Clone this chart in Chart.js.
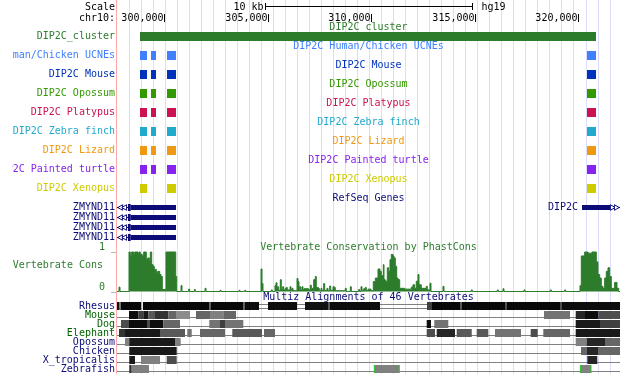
<!DOCTYPE html>
<html>
<head>
<meta charset="utf-8">
<script src="https://cdn.jsdelivr.net/npm/chart.js@4.4.1/dist/chart.umd.min.js"></script>
<style>
  html, body { margin: 0; padding: 0; background: #fff; }
  canvas { display: block; }
</style>
</head>
<body>
<canvas id="browser" width="620" height="374"></canvas>
<script>
// UCSC-style view of chr10 around DIP2C (hg19), drawn with Chart.js

// ---- window / ruler ----
const viewStart = 297729;
const viewEnd = 322029;
const tickValues = [300000, 305000, 310000, 315000, 320000];
const scaleBarStart = 304879;
const scaleBarLength = 10000;

// ---- DIP2C cluster + UCNE tracks ----
const clusterName = 'DIP2C_cluster';
const clusterRange = [298840, 320869];
const ucneTracks = ['Human/Chicken UCNEs', 'Mouse', 'Opossum', 'Platypus', 'Zebra finch', 'Lizard', 'Painted turtle', 'Xenopus'];
const ucneElements = [[298840, 299178], [299372, 299613], [300145, 300579], [320435, 320869]];
const ucnePresent = [
  [1, 1, 1, 1], [1, 1, 1, 1], [1, 1, 1, 1], [1, 1, 1, 1],
  [1, 1, 1, 1], [1, 1, 1, 1], [1, 1, 1, 1], [1, 0, 1, 1]
];

// ---- RefSeq genes ----
const geneNames = ['ZMYND11', 'ZMYND11', 'ZMYND11', 'ZMYND11'];
const zmyndIntron = [viewStart, 298260];
const zmyndCds = [298260, 298390];
const zmyndUtr = [298390, 300579];
const zmyndArrows = [297922, 298115];
const dip2cName = 'DIP2C';
const dip2cExon = [320193, 321545];
const dip2cIntron = [321545, viewEnd];
const dip2cArrows = [321642, 321835];

// ---- Vertebrate conservation (position, phastCons score), stepped ----
const consSteps = [
  [297729, 0], [297826, 0.11], [297874, 0], [298309, 1.0], [298370, 0.91], [298436, 1.0],
  [298536, 0.94], [298584, 1.0], [298743, 0.97], [298792, 1.0], [298855, 0.94], [298950, 0.9],
  [299018, 1.0], [299145, 0.81], [299212, 0.85], [299290, 0.77], [299338, 1.0], [299405, 0.68],
  [299468, 0.64], [299530, 0.56], [299627, 0.47], [299695, 0.51], [299792, 0.43], [299855, 0.38],
  [299918, 0.05], [300096, 1.0], [300565, 0.38], [300613, 0], [300821, 0.15], [300869, 0],
  [301192, 0.06], [301240, 0], [301464, 0.05], [301512, 0], [301981, 0.08], [302029, 0],
  [302705, 0.03], [302753, 0], [303623, 0.03], [303671, 0], [303898, 0.03], [303946, 0],
  [304686, 0.57], [304734, 0.2], [304782, 0], [305183, 0.04], [305231, 0], [305362, 0.15],
  [305410, 0.22], [305459, 0.05], [305492, 0.12], [305541, 0.03], [305618, 0.3], [305666, 0.05],
  [305734, 0.12], [305782, 0.04], [305859, 0.08], [305908, 0.1], [305956, 0.04], [306087, 0.12],
  [306135, 0.04], [306183, 0.08], [306232, 0.02], [306425, 0.33], [306473, 0.25], [306521, 0.05],
  [306555, 0.12], [306603, 0.04], [306666, 0.12], [306715, 0.04], [306763, 0.07], [306990, 0.04],
  [307068, 0.16], [307116, 0.04], [307150, 0.08], [307198, 0.04], [307232, 0.3], [307309, 0.38],
  [307357, 0.1], [307454, 0.08], [307502, 0.02], [307584, 0.08], [307632, 0.02], [307714, 0.2],
  [307763, 0.03], [307874, 0.08], [307922, 0.02], [308004, 0.14], [308052, 0.03], [308163, 0.12],
  [308226, 0.1], [308274, 0.02], [308757, 0.08], [308806, 0], [309000, 0.12], [309048, 0],
  [309406, 0.05], [309454, 0], [309516, 0.12], [309565, 0.02], [309647, 0.07], [309695, 0.02],
  [309724, 0.1], [309772, 0.02], [309855, 0.06], [310000, 0.02], [310111, 0.25], [310208, 0.34],
  [310338, 0.57], [310434, 0.51], [310497, 0.4], [310594, 0.68], [310628, 0.3], [310690, 0.26],
  [310787, 0.6], [310855, 0.51], [310917, 0.81], [310980, 0.94], [311062, 0.9], [311111, 0.85],
  [311173, 0.64], [311241, 0.34], [311304, 0.3], [311386, 0.08], [311627, 0.06], [311946, 0.11],
  [312028, 0.17], [312110, 0.08], [312187, 0.26], [312270, 0.43], [312318, 0.17], [312429, 0.08],
  [312670, 0.13], [312719, 0.04], [312850, 0.21], [312898, 0], [313478, 0.13], [313526, 0],
  [314845, 0.04], [314893, 0], [316102, 0.04], [316150, 0], [316376, 0.07], [316424, 0],
  [317391, 0.04], [317439, 0], [318662, 0.04], [318710, 0], [319357, 0.04], [319406, 0],
  [320096, 0.15], [320159, 0.9], [320323, 1.0], [320483, 0.97], [320676, 1.0], [320884, 0.75],
  [320966, 0.43], [321048, 0.34], [321125, 0.13], [321207, 0.08], [321289, 0.34], [321366, 0.51],
  [321449, 0.6], [321531, 0.38], [321608, 0.08], [321772, 0.23], [321884, 0.08], [321966, 0],
  [322029, 0]
];

// ---- Multiz 46-way blocks: [start, end, score] ----
const multizSpecies = ['Rhesus', 'Mouse', 'Dog', 'Elephant', 'Opossum', 'Chicken', 'X_tropicalis', 'Zebrafish'];
const rhesusBlocks = [
  [297729, 297850, 0.95], [297850, 297922, 0.55], [297922, 298913, 0.97], [298913, 298985, 0.1],
  [298985, 302174, 0.97], [302174, 302246, 0.6], [302246, 303816, 0.97], [303816, 303889, 0.6],
  [303889, 304589, 0.95], [305024, 306425, 0.95], [306811, 307922, 0.93], [307922, 308019, 0.65],
  [308019, 310434, 0.95], [312705, 312947, 0.75], [312947, 314299, 0.97], [314299, 314372, 0.65],
  [314372, 316473, 0.97], [316473, 316546, 0.7], [316546, 319130, 0.97], [319130, 319227, 0.7],
  [319227, 322029, 0.95]
];
const rhesusGaps = [[304589, 305024], [306425, 306811], [310434, 312705]];
const mouseBlocks = [
  [298309, 298758, 0.95], [298758, 299000, 0.75], [299000, 299241, 0.9], [299241, 299565, 0.65],
  [299565, 300207, 0.8], [300207, 300613, 0.6], [300613, 301256, 0.45], [301546, 302222, 0.6],
  [302222, 302864, 0.5], [302864, 303478, 0.6], [318357, 319613, 0.55], [319889, 320338, 0.85],
  [320338, 320981, 0.95], [320981, 322029, 0.7]
];
const dogBlocks = [
  [297922, 298309, 0.7], [298309, 299178, 0.95], [299178, 299323, 0.7], [299323, 299966, 0.95],
  [299966, 300773, 0.6], [302188, 302705, 0.55], [302705, 302947, 0.75], [302947, 303831, 0.55],
  [312691, 312898, 0.95], [313058, 313734, 0.55], [319889, 321062, 0.9], [321062, 322029, 0.75]
];
const elephantBlocks = [
  [297826, 298115, 0.8], [298115, 299806, 0.9], [299806, 301014, 0.65], [301125, 301338, 0.55],
  [301739, 302947, 0.6], [303299, 304734, 0.65], [304831, 305362, 0.6], [312691, 313091, 0.7],
  [313174, 314058, 0.85], [314140, 314865, 0.65], [315106, 315667, 0.65], [315990, 317246, 0.55],
  [317715, 318053, 0.7], [318324, 319613, 0.6], [319889, 322029, 0.9]
];
const opossumBlocks = [
  [298115, 298323, 0.5], [298323, 300531, 0.9], [300531, 300806, 0.5],
  [319889, 320420, 0.5], [320420, 321304, 0.85], [321304, 322029, 0.6]
];
const chickenBlocks = [
  [298323, 300613, 0.9], [320145, 320420, 0.6], [320420, 320966, 0.85], [320966, 322029, 0.6]
];
const xtropBlocks = [
  [298323, 298599, 0.9], [298888, 299806, 0.5], [300130, 300613, 0.7], [320449, 320932, 0.85]
];
const zebrafishBlocks = [
  [298323, 298439, 0.8], [298439, 299275, 0.5], [310160, 311367, 0.5], [320111, 320628, 0.5]
];
const zebrafishBreaks = [310160, 311367, 320111, 320628];

// ---- look ----
const FONT = '10px "DejaVu Sans Mono", "Liberation Mono", monospace';
const GREEN = '#2c7c2c';
const NAVY = '#0c0c78';
const MAF_GREEN = '#006400';
const ucneColors = ['#4080ff', '#0033bb', '#339900', '#cc1155', '#22aacc', '#ee9911', '#8822ee', '#cccc00'];
const multizColors = [NAVY, MAF_GREEN, MAF_GREEN, MAF_GREEN, NAVY, NAVY, NAVY, NAVY];
const GUIDE = '#dcdcff';
const guideStart = 298309;
const guideStep = 581;

// vertical layout (canvas rows)
const ROW = {
  scaleBase: 10, scaleBar: 6.5, scaleTickTop: 3, scaleTickBottom: 10,
  chromBase: 21, chromTickTop: 14, chromTickBottom: 22,
  clusterBar: 36.5, clusterTitle: 30, clusterLabel: 39,
  ucneBar: 55.5, ucneTitle: 49, ucneLabel: 58, ucneStep: 19,
  refTitle: 201, geneBar: 207.5, geneLabel: 210, geneStep: 10,
  consTitle: 250, consTop: 252, consBase: 291.5, consLabel: 268,
  mafTitle: 300, mafBar: 306, mafLabel: 309, mafStep: 9
};
const HEIGHT = 374;
const LABEL_RIGHT = 115;

function shade(score) {
  const g = Math.round(255 * (1 - score));
  return `rgb(${g},${g},${g})`;
}

function floatBars(ranges, y, thickness, colors, order) {
  return {
    type: 'bar',
    indexAxis: 'y',
    xAxisID: 'x',
    yAxisID: 'y',
    data: ranges.map(r => ({ x: [r[0], r[1]], y })),
    backgroundColor: colors,
    barThickness: thickness,
    grouped: false,
    borderWidth: 0,
    inflateAmount: 0,
    order,
  };
}

function arrows(positions, y, rotation) {
  return {
    type: 'scatter',
    xAxisID: 'x',
    yAxisID: 'y',
    data: positions.map(p => ({ x: p, y })),
    pointStyle: 'triangle',
    rotation,
    pointRadius: 3.2,
    backgroundColor: '#fff',
    borderColor: NAVY,
    borderWidth: 1,
    order: 0,
  };
}

const datasets = [];

// conservation wiggle
datasets.push({
  type: 'line',
  xAxisID: 'x',
  yAxisID: 'yc',
  data: consSteps.map(s => ({ x: s[0], y: s[1] })),
  stepped: true,
  fill: 'origin',
  borderColor: GREEN,
  backgroundColor: GREEN,
  borderWidth: 1,
  pointRadius: 0,
  order: 6,
});

// cluster bar
datasets.push(floatBars([clusterRange], ROW.clusterBar, 9, GREEN, 2));

// UCNE tracks
ucneTracks.forEach((name, k) => {
  const blocks = ucneElements.filter((_, j) => ucnePresent[k][j]);
  datasets.push(floatBars(blocks, ROW.ucneBar + k * ROW.ucneStep, 9, ucneColors[k], 2));
});

// genes
geneNames.forEach((name, k) => {
  const y = ROW.geneBar + k * ROW.geneStep;
  datasets.push(floatBars([zmyndIntron], y, 1, NAVY, 3));
  datasets.push(floatBars([zmyndCds], y, 7, NAVY, 2));
  datasets.push(floatBars([zmyndUtr], y, 5, NAVY, 2));
  datasets.push(arrows(zmyndArrows, y, -90));
});
datasets.push(floatBars([dip2cIntron], ROW.geneBar, 1, NAVY, 3));
datasets.push(floatBars([dip2cExon], ROW.geneBar, 5, NAVY, 2));
datasets.push(arrows(dip2cArrows, ROW.geneBar, 90));

// multiz rows
const multizBlocks = [rhesusBlocks, mouseBlocks, dogBlocks, elephantBlocks, opossumBlocks, chickenBlocks, xtropBlocks, zebrafishBlocks];
multizBlocks.forEach((blocks, i) => {
  const y = ROW.mafBar + i * ROW.mafStep;
  datasets.push(floatBars([[viewStart, viewEnd]], y + 2.5, 1, '#808080', 8));
  datasets.push(floatBars(blocks, y, 8, blocks.map(b => shade(b[2])), 2));
});
datasets.push(floatBars(rhesusGaps, ROW.mafBar - 1.5, 1, '#808080', 8));
datasets.push(floatBars(zebrafishBreaks.map(p => [p - 24, p + 24]),
  ROW.mafBar + 7 * ROW.mafStep, 8, '#22cc22', 1));

// conservation axis spans the whole canvas so 0..1 lands on consBase..consTop
const consPx = ROW.consBase - ROW.consTop;
const consMin = -(HEIGHT - ROW.consBase) / consPx;
const consMax = 1 + ROW.consTop / consPx;

const guideTicks = [];
for (let v = guideStart; v <= viewEnd; v += guideStep) guideTicks.push(v);

// labels, titles, ruler
const trackText = {
  id: 'trackText',
  afterDatasetsDraw(chart) {
    const { ctx, chartArea } = chart;
    const xs = chart.scales.x;
    const mid = (chartArea.left + chartArea.right) / 2;
    ctx.save();
    ctx.font = FONT;
    ctx.textBaseline = 'alphabetic';

    // left edge line
    ctx.fillStyle = '#ffaaaa';
    ctx.fillRect(chartArea.left - 1, 0, 1, HEIGHT);

    // scale bar
    const s0 = Math.round(xs.getPixelForValue(scaleBarStart)) + 0.5;
    const s1 = Math.round(xs.getPixelForValue(scaleBarStart + scaleBarLength)) + 0.5;
    ctx.strokeStyle = '#000';
    ctx.lineWidth = 1;
    ctx.beginPath();
    ctx.moveTo(s0, ROW.scaleBar); ctx.lineTo(s1, ROW.scaleBar);
    ctx.moveTo(s0, ROW.scaleTickTop); ctx.lineTo(s0, ROW.scaleTickBottom);
    ctx.moveTo(s1, ROW.scaleTickTop); ctx.lineTo(s1, ROW.scaleTickBottom);
    ctx.stroke();
    ctx.fillStyle = '#000';
    ctx.textAlign = 'right';
    ctx.fillText((scaleBarLength / 1000) + ' kb', s0 - 2, ROW.scaleBase);
    ctx.textAlign = 'left';
    ctx.fillText('hg19', s1 + 9, ROW.scaleBase);

    // position ruler
    ctx.textAlign = 'right';
    tickValues.forEach(v => {
      const px = Math.round(xs.getPixelForValue(v)) + 0.5;
      ctx.beginPath();
      ctx.moveTo(px, ROW.chromTickTop); ctx.lineTo(px, ROW.chromTickBottom);
      ctx.stroke();
      ctx.fillText(v.toLocaleString('en-US'), px - 1, ROW.chromBase);
    });

    // centred track titles
    ctx.textAlign = 'center';
    const title = (t, y, c) => { ctx.fillStyle = c; ctx.fillText(t, mid, y); };
    title(clusterName, ROW.clusterTitle, GREEN);
    ucneTracks.forEach((n, k) => title('DIP2C ' + n, ROW.ucneTitle + k * ROW.ucneStep, ucneColors[k]));
    title('RefSeq Genes', ROW.refTitle, NAVY);
    title('Vertebrate Conservation by PhastCons', ROW.consTitle, GREEN);
    title('Multiz Alignments of 46 Vertebrates', ROW.mafTitle, NAVY);

    // gene label inside the data area
    ctx.textAlign = 'right';
    ctx.fillStyle = NAVY;
    ctx.fillText(dip2cName, xs.getPixelForValue(dip2cExon[0]) - 4, ROW.geneLabel);

    // left-hand labels, clipped like the browser's label column
    ctx.beginPath();
    ctx.rect(12, 0, chartArea.left - 13, HEIGHT);
    ctx.clip();
    const label = (t, y, c, right) => { ctx.fillStyle = c; ctx.fillText(t, right || LABEL_RIGHT, y); };
    label('Scale', ROW.scaleBase, '#000');
    label('chr10:', ROW.chromBase, '#000');
    label(clusterName, ROW.clusterLabel, GREEN);
    ucneTracks.forEach((n, k) => label('DIP2C ' + n, ROW.ucneLabel + k * ROW.ucneStep, ucneColors[k]));
    geneNames.forEach((n, k) => label(n, ROW.geneLabel + k * ROW.geneStep, NAVY));
    label('1 _', ROW.consTitle, GREEN, chartArea.left);
    label('Vertebrate Cons', ROW.consLabel, GREEN, 103);
    label('0 _', ROW.consBase - 1.5, GREEN, chartArea.left);
    multizSpecies.forEach((n, i) => label(n, ROW.mafLabel + i * ROW.mafStep, multizColors[i]));
    ctx.restore();
  }
};

new Chart(document.getElementById('browser'), {
  type: 'bar',
  data: { datasets },
  options: {
    responsive: false,
    animation: false,
    devicePixelRatio: 1,
    events: [],
    layout: { autoPadding: false, padding: { left: 117, right: 0, top: 0, bottom: 0 } },
    plugins: { legend: { display: false }, tooltip: { enabled: false } },
    scales: {
      x: {
        type: 'linear',
        min: viewStart,
        max: viewEnd,
        offset: false,
        ticks: { display: false },
        grid: { color: GUIDE, lineWidth: 1, drawTicks: false, offset: false },
        border: { display: false },
        afterBuildTicks: axis => { axis.ticks = guideTicks.map(v => ({ value: v })); },
      },
      y: {
        type: 'linear', axis: 'y', min: 0, max: HEIGHT, reverse: true, display: false,
        offset: false, grid: { offset: false },
      },
      yc: {
        type: 'linear', axis: 'y', min: consMin, max: consMax, display: false,
        offset: false, grid: { offset: false },
      },
    },
  },
  plugins: [trackText],
});
</script>
</body>
</html>
